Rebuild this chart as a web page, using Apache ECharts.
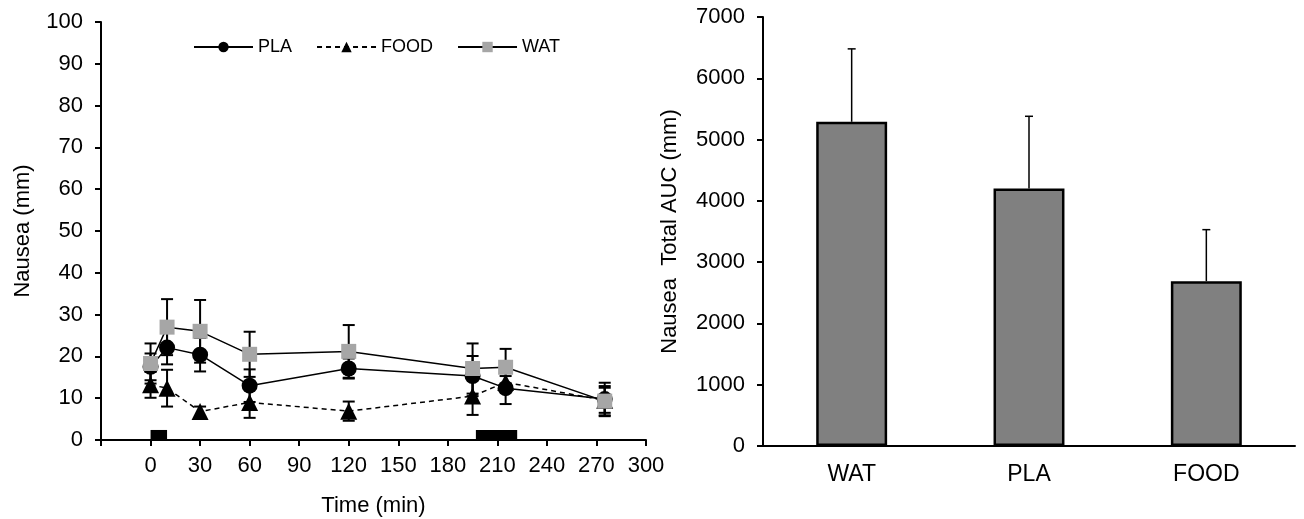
<!DOCTYPE html>
<html>
<head>
    <meta charset="utf-8">
    <title>Nausea</title>
    <script src="https://cdn.jsdelivr.net/npm/echarts@6.0.0/dist/echarts.min.js"></script>
    <style>
        body { margin: 0; background: #fff; }
        #main { width: 1304px; height: 519px; }
    </style>
</head>
<body>
    <div id="main"></div>
    <script>
        // time course (min)
        var times = [0, 10, 30, 60, 120, 195, 215, 275];
        var plaMean = [17.5, 22.1, 20.4, 13.0, 17.1, 15.3, 12.4, 9.8];
        var plaSd   = [3.2, 4.0, 4.0, 3.9, 2.4, 4.8, 3.8, 3.9];
        var foodMean = [13.2, 12.4, 6.8, 9.0, 6.9, 10.5, 13.8, 9.5];
        var foodSd   = [3.1, 4.4, 1.2, 3.7, 2.3, 4.5, 1.5, 3.0];
        var watMean = [18.3, 27.0, 26.0, 20.5, 21.2, 17.1, 17.4, 9.3];
        var watSd   = [4.8, 6.7, 7.5, 5.4, 6.3, 6.0, 4.4, 3.6];
        // black blocks on the time axis: [start, end, height]
        var blocks = [[0, 10, 2.4], [197, 222, 2.4]];

        // total AUC
        var aucCats = ['WAT', 'PLA', 'FOOD'];
        var aucMean = [5290, 4200, 2690];
        var aucErr  = [1190, 1180, 840];

        var font = '"Liberation Sans", Arial, sans-serif';

        function zip(xs, m, s) {
            var out = [];
            for (var i = 0; i < xs.length; i++) out.push([xs[i], m[i], s[i]]);
            return out;
        }

        function errRender(capW, lw, both) {
            return function (params, api) {
                var x = api.value(0), m = api.value(1), e = api.value(2);
                var top = api.coord([x, m + e]);
                var bot = api.coord([x, both ? m - e : m]);
                var st = { stroke: '#000', lineWidth: lw };
                return {
                    type: 'group',
                    children: [
                        { type: 'line', shape: { x1: top[0], y1: top[1], x2: bot[0], y2: bot[1] }, style: st },
                        { type: 'line', shape: { x1: top[0] - capW / 2, y1: top[1], x2: top[0] + capW / 2, y2: top[1] }, style: st },
                        both ? { type: 'line', shape: { x1: bot[0] - capW / 2, y1: bot[1], x2: bot[0] + capW / 2, y2: bot[1] }, style: st } : { type: 'group' }
                    ]
                };
            };
        }

        function lineData(xs, m) {
            var out = [];
            for (var i = 0; i < xs.length; i++) out.push([xs[i], m[i]]);
            return out;
        }

        var axisTxt = { color: '#000', fontSize: 22, fontFamily: font };
        var catTxt = { color: '#000', fontSize: 23, fontFamily: font };
        var axLine = { lineStyle: { color: '#000', width: 2 } };
        var axTick = { length: 6, lineStyle: { color: '#000', width: 2 } };

        var chart = echarts.init(document.getElementById('main'));
        chart.setOption({
            animation: false,
            backgroundColor: '#fff',
            legend: {
                left: 188, top: 33,
                itemWidth: 59, itemHeight: 13, itemGap: 24,
                textStyle: { color: '#000', fontSize: 18, fontFamily: font },
                data: ['PLA', 'FOOD', 'WAT']
            },
            grid: [
                { left: 101, top: 22, right: 658, bottom: 79, outerBoundsMode: 'none' },
                { left: 763, top: 17, right: 9, bottom: 73, outerBoundsMode: 'none' }
            ],
            xAxis: [
                {
                    gridIndex: 0, type: 'value', min: -30, max: 300, interval: 30,
                    name: 'Time (min)', nameLocation: 'middle', nameGap: 55,
                    nameTextStyle: axisTxt,
                    axisLine: axLine, axisTick: axTick, splitLine: { show: false },
                    axisLabel: Object.assign({ margin: 15, formatter: function (v) { return v < 0 ? '' : v; } }, axisTxt)
                },
                {
                    gridIndex: 1, type: 'category', data: aucCats,
                    axisLine: axLine, axisTick: Object.assign({ alignWithLabel: true }, axTick),
                    axisLabel: Object.assign({ margin: 17 }, catTxt)
                }
            ],
            yAxis: [
                {
                    gridIndex: 0, type: 'value', min: 0, max: 100, interval: 10,
                    name: 'Nausea (mm)', nameLocation: 'middle', nameGap: 67,
                    nameTextStyle: axisTxt,
                    axisLine: Object.assign({ show: true, onZero: false }, axLine), axisTick: Object.assign({ show: true }, axTick),
                    splitLine: { show: false },
                    axisLabel: Object.assign({ margin: 18 }, axisTxt)
                },
                {
                    gridIndex: 1, type: 'value', min: 0, max: 7000, interval: 1000,
                    name: 'Nausea  Total AUC (mm)', nameLocation: 'middle', nameGap: 82,
                    nameTextStyle: axisTxt,
                    axisLine: Object.assign({ show: true }, axLine), axisTick: Object.assign({ show: true }, axTick),
                    splitLine: { show: false },
                    axisLabel: Object.assign({ margin: 18, formatter: function (v) { return String(v); } }, axisTxt)
                }
            ],
            series: [
                {
                    type: 'custom', xAxisIndex: 0, yAxisIndex: 0, z: 1,
                    renderItem: function (params, api) {
                        var p0 = api.coord([api.value(0), api.value(2)]);
                        var p1 = api.coord([api.value(1), 0]);
                        return { type: 'rect', shape: { x: p0[0], y: p0[1], width: p1[0] - p0[0], height: p1[1] - p0[1] }, style: { fill: '#000' } };
                    },
                    data: blocks
                },
                { type: 'custom', xAxisIndex: 0, yAxisIndex: 0, z: 2, renderItem: errRender(12, 2, true), data: zip(times, plaMean, plaSd) },
                { type: 'custom', xAxisIndex: 0, yAxisIndex: 0, z: 2, renderItem: errRender(12, 2, true), data: zip(times, foodMean, foodSd) },
                { type: 'custom', xAxisIndex: 0, yAxisIndex: 0, z: 2, renderItem: errRender(12, 2, true), data: zip(times, watMean, watSd) },
                {
                    name: 'PLA', type: 'line', xAxisIndex: 0, yAxisIndex: 0, z: 3,
                    symbol: 'circle', symbolSize: 16,
                    lineStyle: { color: '#000', width: 1.5 },
                    itemStyle: { color: '#000' },
                    data: lineData(times, plaMean)
                },
                {
                    name: 'FOOD', type: 'line', xAxisIndex: 0, yAxisIndex: 0, z: 4,
                    symbol: 'triangle', symbolSize: 17,
                    lineStyle: { color: '#000', width: 1.5, type: [5, 4] },
                    itemStyle: { color: '#000' },
                    data: lineData(times, foodMean)
                },
                {
                    name: 'WAT', type: 'line', xAxisIndex: 0, yAxisIndex: 0, z: 5,
                    symbol: 'rect', symbolSize: 15,
                    lineStyle: { color: '#000', width: 1.5 },
                    itemStyle: { color: '#a6a6a6' },
                    data: lineData(times, watMean)
                },
                {
                    type: 'custom', xAxisIndex: 1, yAxisIndex: 1, z: 1,
                    renderItem: errRender(8, 1.5, false),
                    data: aucMean.map(function (m, i) { return [i, m, aucErr[i]]; })
                },
                {
                    type: 'bar', xAxisIndex: 1, yAxisIndex: 1, z: 3,
                    barWidth: '40%',
                    itemStyle: { color: '#808080', borderColor: '#000', borderWidth: 2.5 },
                    data: aucMean
                }
            ]
        });
    </script>
</body>
</html>
